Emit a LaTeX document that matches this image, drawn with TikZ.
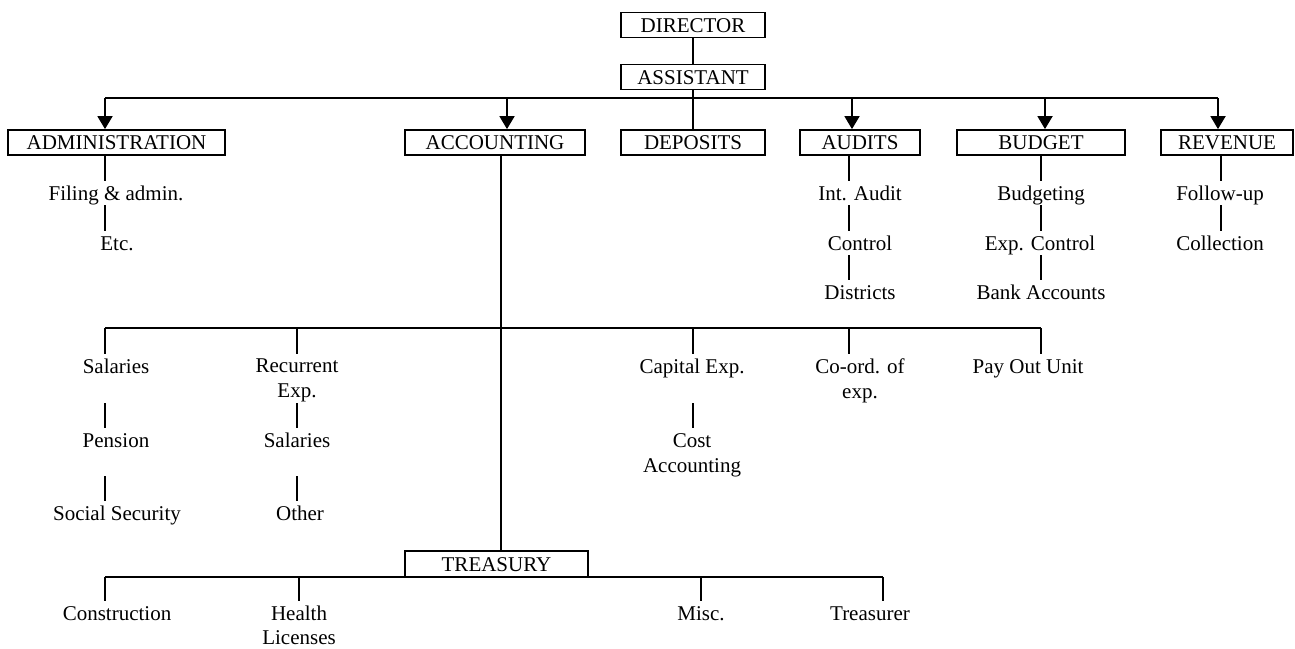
\documentclass[tikz,border=0pt]{standalone}
\usepackage{fontspec}
\setmainfont{Liberation Serif}
\usetikzlibrary{arrows.meta}
\tikzset{
  unit/.style={draw, line width=1.8pt, inner sep=0pt, minimum height=25pt,
               text height=14pt, text depth=0pt},
  lbl/.style={inner xsep=0pt, inner ysep=5pt, text height=14pt, text depth=0pt},
  lbltwo/.style={inner xsep=0pt, inner ysep=5pt, align=center, anchor=north},
  wire/.style={line width=1.8pt},
  feed/.style={wire, -{Triangle[width=15pt,length=13pt]}},
}
\begin{document}
\begin{tikzpicture}[x=1pt, y=-1pt, font=\fontsize{21}{25}\selectfont]
\useasboundingbox (0,0) rectangle (1295,648);

% ---- top of the organisation
\node[unit, minimum width=144pt] (dir)  at (693,25)  {DIRECTOR};
\node[unit, minimum width=144pt] (asst) at (693,77)  {ASSISTANT};

% ---- departments
\node[unit, minimum width=217pt] (adm) at (116.5,142.5) {ADMINISTRATION};
\node[unit, minimum width=180pt] (acc) at (495,142.5)   {ACCOUNTING};
\node[unit, minimum width=144pt] (dep) at (693,142.5)   {DEPOSITS};
\node[unit, minimum width=120pt] (aud) at (860,142.5)   {AUDITS};
\node[unit, minimum width=168pt] (bud) at (1041,142.5)  {BUDGET};
\node[unit, minimum width=132pt] (rev) at (1227,142.5)  {REVENUE};

% distribution bus below the assistant
\coordinate (cA) at (105,98);
\coordinate (cC) at (507,98);
\coordinate (cU) at (852,98);
\coordinate (cB) at (1045,98);
\coordinate (cR) at (1218,98);
\draw[wire] (cA) -- (cR);
\draw[wire] (dir) -- (asst);
\draw[wire] (asst) -- (dep);
\foreach \c/\n in {cA/adm, cC/acc, cU/aud, cB/bud, cR/rev}
  \draw[feed] (\c) -- (\c |- \n.north);

% ---- administration
\node[lbl] (fil) at (116,193) {Filing \& admin.};
\node[lbl] (etc) at (117,243) {Etc.};
\draw[wire] (adm.south -| cA) -- (fil.north -| cA);
\draw[wire] (fil.south -| cA) -- (etc.north -| cA);

% ---- audits
\coordinate (xU) at (849,0);
\node[lbl] (iau) at (860,193) {Int. Audit};
\node[lbl] (ctl) at (860,243) {Control};
\node[lbl] (dis) at (860,292) {Districts};
\draw[wire] (aud.south -| xU) -- (iau.north -| xU);
\draw[wire] (iau.south -| xU) -- (ctl.north -| xU);
\draw[wire] (ctl.south -| xU) -- (dis.north -| xU);

% ---- budget
\coordinate (xB) at (1041,0);
\node[lbl] (bdg) at (1041,193) {Budgeting};
\node[lbl] (exc) at (1040,243) {Exp. Control};
\node[lbl] (bnk) at (1041,292) {Bank Accounts};
\draw[wire] (bud.south -| xB) -- (bdg.north -| xB);
\draw[wire] (bdg.south -| xB) -- (exc.north -| xB);
\draw[wire] (exc.south -| xB) -- (bnk.north -| xB);

% ---- revenue
\coordinate (xR) at (1221,0);
\node[lbl] (fol) at (1220,193) {Follow-up};
\node[lbl] (col) at (1220,243) {Collection};
\draw[wire] (rev.south -| xR) -- (fol.north -| xR);
\draw[wire] (fol.south -| xR) -- (col.north -| xR);

% ---- accounting sections
\coordinate (s1) at (105,328);
\coordinate (s2) at (297,328);
\coordinate (s3) at (693,328);
\coordinate (s4) at (849,328);
\coordinate (s5) at (1041,328);
\draw[wire] (s1) -- (s5);

\node[lbl]    (sal)  at (116,366) {Salaries};
\node[lbltwo] (rec)  at (297,354) {Recurrent\\Exp.};
\node[lbl]    (cap)  at (692,366) {Capital Exp.};
\node[lbltwo] (coo)  at (860,354) {Co-ord. of\\exp.};
\node[lbl]    (pay)  at (1028,366) {Pay Out Unit};

\node[lbl]    (pen)  at (116,440) {Pension};
\node[lbl]    (sal2) at (297,440) {Salaries};
\node[lbltwo] (cst)  at (692,428) {Cost\\Accounting};

\node[lbl]    (soc)  at (117,513) {Social Security};
\node[lbl]    (oth)  at (300,513) {Other};

\draw[wire] (s1) -- (sal.north -| s1);
\draw[wire] (s2) -- (rec.north);
\draw[wire] (s3) -- (cap.north -| s3);
\draw[wire] (s4) -- (coo.north -| s4);
\draw[wire] (s5) -- (pay.north -| s5);

\draw[wire, shorten <=25pt] (sal.south -| s1) -- (pen.north -| s1);
\draw[wire, shorten <=24pt] (pen.south -| s1) -- (soc.north -| s1);
\draw[wire, shorten <=-4.5pt] (rec.south) -- (sal2.north -| rec.south);
\draw[wire, shorten <=24pt] (sal2.south -| s2) -- (oth.north -| s2);
\draw[wire, shorten <=25pt] (cap.south -| s3) -- (cst.north -| s3);

% ---- treasury
\coordinate (xC) at (501,0);
\node[unit, minimum width=183pt, minimum height=26pt] (trs) at (496.5,564) {TREASURY};
\draw[wire] (acc.south -| xC) -- (trs.north -| xC);

\coordinate (t1) at (105,577);
\coordinate (t2) at (299,577);
\coordinate (t3) at (701,577);
\coordinate (t4) at (883,577);
\draw[wire] (t1) -- (t4);

\node[lbl]    (con) at (117,613) {Construction};
\node[lbltwo, font=\fontsize{21}{24}\selectfont] (hea) at (299,601) {Health\\Licenses};
\node[lbl]    (mis) at (701,613) {Misc.};
\node[lbl]    (tre) at (870,613) {Treasurer};

\draw[wire] (t1) -- (con.north -| t1);
\draw[wire] (t2) -- (hea.north);
\draw[wire] (t3) -- (mis.north -| t3);
\draw[wire] (t4) -- (tre.north -| t4);
\end{tikzpicture}
\end{document}
